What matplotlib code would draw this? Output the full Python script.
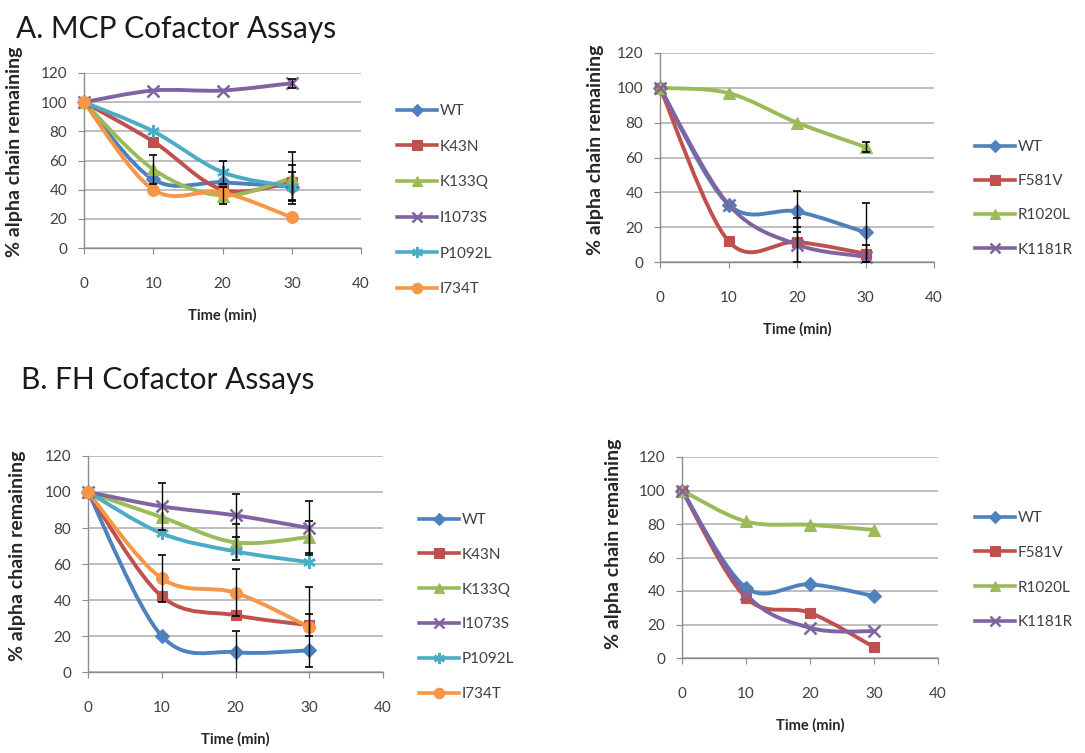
import matplotlib
matplotlib.use("Agg")
import matplotlib.pyplot as plt
import numpy as np
from matplotlib.path import Path
from matplotlib.patches import PathPatch
from matplotlib.lines import Line2D

plt.rcParams['font.family'] = ['Lato', 'DejaVu Sans']

# ---------------- data ----------------
time_min = [0, 10, 20, 30]
x_ticks = [0, 10, 20, 30, 40]
y_ticks = [0, 20, 40, 60, 80, 100, 120]

mcp_left_labels = ["WT", "K43N", "K133Q", "I1073S", "P1092L", "I734T"]
mcp_wt = [100, 47, 45, 42]
mcp_k43n = [100, 73, 40, 45]
mcp_k133q = [100, 54, 36, 48]
mcp_i1073s = [100, 108, 108, 113]
mcp_p1092l = [100, 80, 52, 42]
mcp_i734t = [100, 40, 38, 21]
mcp_wt_err = [0, 0, 0, 10]
mcp_k43n_err = [0, 0, 0, 12]
mcp_k133q_err = [0, 10, 6, 18]
mcp_i1073s_err = [0, 0, 0, 3]
mcp_p1092l_err = [0, 0, 8, 0]
mcp_i734t_err = [0, 0, 0, 0]

mcp_right_labels = ["WT", "F581V", "R1020L", "K1181R"]
mcp_r_wt = [100, 33, 29, 17]
mcp_r_f581v = [100, 12, 11.5, 4.8]
mcp_r_r1020l = [100, 97, 80, 66]
mcp_r_k1181r = [100, 33, 10, 3]
mcp_r_wt_err = [0, 0, 12, 17]
mcp_r_f581v_err = [0, 0, 14, 5]
mcp_r_r1020l_err = [0, 0, 0, 3]
mcp_r_k1181r_err = [0, 0, 10, 0]

fh_left_labels = ["WT", "K43N", "K133Q", "I1073S", "P1092L", "I734T"]
fh_wt = [100, 20, 11, 12]
fh_k43n = [100, 42, 31.5, 26]
fh_k133q = [100, 86, 72, 75]
fh_i1073s = [100, 92, 87, 80]
fh_p1092l = [100, 77, 67, 61]
fh_i734t = [100, 52, 44, 25]
fh_wt_err = [0, 0, 12, 0]
fh_k43n_err = [0, 0, 0, 6]
fh_k133q_err = [0, 0, 10, 9]
fh_i1073s_err = [0, 13, 12, 15]
fh_p1092l_err = [0, 0, 0, 0]
fh_i734t_err = [0, 13, 13, 22]

fh_right_labels = ["WT", "F581V", "R1020L", "K1181R"]
fh_r_wt = [100, 42, 44, 37]
fh_r_f581v = [100, 36, 27, 6.5]
fh_r_r1020l = [100, 81.5, 79.5, 76.5]
fh_r_k1181r = [100, 38, 18, 16]

Y_LABEL = "% alpha chain remaining"
X_LABEL = "Time (min)"

# ---------------- styles ----------------
C_BLUE = "#4F81BD"
C_RED = "#C0504D"
C_GREEN = "#9BBB59"
C_PURPLE = "#8064A2"
C_CYAN = "#4BACC6"
C_ORANGE = "#F79646"
STAR = (6, 2, 0)

left_styles = [(C_BLUE, "D", 7), (C_RED, "s", 7.5), (C_GREEN, "^", 8.5),
               (C_PURPLE, "x", 8), (C_CYAN, STAR, 9), (C_ORANGE, "o", 8.5)]
right_styles = [(C_BLUE, "D", 7), (C_RED, "s", 7.5), (C_GREEN, "^", 8.5),
                (C_PURPLE, "x", 8)]

W, H = 1085, 753
fig = plt.figure(figsize=(W / 100, H / 100), dpi=100)
fig.patch.set_facecolor("white")

TICK_COLOR = "#404040"
GRID_COLOR = "#BEBEBE"
AXIS_COLOR = "#8C8C8C"
LABEL_COLOR = "#262626"


def px_axes(x0, x1, ytop, ybot):
    return fig.add_axes([x0 / W, (H - ybot) / H, (x1 - x0) / W, (ybot - ytop) / H])


def smooth_path(xs, ys):
    pts = np.column_stack([xs, ys]).astype(float)
    n = len(pts)
    verts = [pts[0]]
    codes = [Path.MOVETO]
    for i in range(n - 1):
        p0 = pts[i - 1] if i > 0 else pts[i]
        p1 = pts[i]
        p2 = pts[i + 1]
        p3 = pts[i + 2] if i + 2 < n else pts[i + 1]
        c1 = p1 + (p2 - p0) / 6.0
        c2 = p2 - (p3 - p1) / 6.0
        verts += [c1, c2, p2]
        codes += [Path.CURVE4] * 3
    return Path(verts, codes)


def style_axes(ax):
    ax.set_xlim(0, 40)
    ax.set_ylim(0, 120)
    ax.set_xticks(x_ticks)
    ax.set_yticks(y_ticks)
    ax.grid(axis="y", color=GRID_COLOR, lw=1.4, zorder=0)
    ax.set_axisbelow(True)
    for s in ["top", "right"]:
        ax.spines[s].set_visible(False)
    for s in ["left", "bottom"]:
        ax.spines[s].set_color(AXIS_COLOR)
        ax.spines[s].set_linewidth(1.0)
    ax.tick_params(axis="both", direction="out", length=4, color=AXIS_COLOR,
                   labelsize=11, labelcolor=TICK_COLOR)
    ax.tick_params(axis="x", pad=17)
    ax.tick_params(axis="y", pad=8)
    ax.set_facecolor("none")
    ax.set_xlabel(X_LABEL, fontsize=10.5, fontweight="bold", color=LABEL_COLOR, labelpad=12)


def draw_series(ax, series, errs, styles, labels):
    handles = []
    for ys, err, (c, m, ms), lab in zip(series, errs, styles, labels):
        patch = PathPatch(smooth_path(time_min, ys), fill=False, edgecolor=c,
                          lw=2.8, capstyle="round", joinstyle="round", zorder=3)
        ax.add_patch(patch)
        mew = 1.8 if m in ("x", STAR) else 0.8
        ax.plot(time_min, ys, linestyle="none", marker=m, ms=ms, color=c,
                markeredgecolor=c, mew=mew, zorder=4, clip_on=False)
        if err is not None and any(e > 0 for e in err):
            xe = [t for t, e in zip(time_min, err) if e > 0]
            ye = [v for v, e in zip(ys, err) if e > 0]
            ee = [e for e in err if e > 0]
            ax.errorbar(xe, ye, yerr=ee, fmt="none", ecolor="black", elinewidth=1.0,
                        capsize=3, capthick=1.2, zorder=5)
        handles.append(Line2D([], [], color=c, lw=2.6, marker=m, ms=ms - 1,
                              markeredgecolor=c, mew=mew))
    return handles


def add_legend(handles, labels, x, y, spacing):
    fig.legend(handles, labels, loc="upper left", bbox_to_anchor=(x / W, 1 - y / H),
               frameon=False, fontsize=11, handlelength=2.6, handletextpad=0.2,
               labelspacing=spacing, borderpad=0, borderaxespad=0, labelcolor=TICK_COLOR)


def add_ylabel(xc, yc):
    fig.text(xc / W, 1 - yc / H, Y_LABEL, rotation=90, ha="center", va="center",
             fontsize=14, fontweight="bold", color=LABEL_COLOR)


# ---------------- titles ----------------
fig.text(16 / W, 1 - 38 / H, "A. MCP Cofactor Assays", fontsize=21.5, color="#1a1a1a",
         ha="left", va="baseline")
fig.text(21 / W, 1 - 389 / H, "B. FH Cofactor Assays", fontsize=21.5, color="#1a1a1a",
         ha="left", va="baseline")

# ---------------- top-left ----------------
ax1 = px_axes(84, 361, 73, 248)
style_axes(ax1)
h = draw_series(ax1, [mcp_wt, mcp_k43n, mcp_k133q, mcp_i1073s, mcp_p1092l, mcp_i734t],
                [mcp_wt_err, mcp_k43n_err, mcp_k133q_err, mcp_i1073s_err, mcp_p1092l_err,
                 mcp_i734t_err], left_styles, mcp_left_labels)
add_legend(h, mcp_left_labels, 397, 104, 1.42)
add_ylabel(15, 152)

# ---------------- top-right ----------------
ax2 = px_axes(660, 934, 53, 262)
style_axes(ax2)
h = draw_series(ax2, [mcp_r_wt, mcp_r_f581v, mcp_r_r1020l, mcp_r_k1181r],
                [mcp_r_wt_err, mcp_r_f581v_err, mcp_r_r1020l_err, mcp_r_k1181r_err],
                right_styles, mcp_right_labels)
add_legend(h, mcp_right_labels, 975, 140, 1.32)
add_ylabel(595, 150)

# ---------------- bottom-left ----------------
ax3 = px_axes(88, 383, 456, 672)
style_axes(ax3)
h = draw_series(ax3, [fh_wt, fh_k43n, fh_k133q, fh_i1073s, fh_p1092l, fh_i734t],
                [fh_wt_err, fh_k43n_err, fh_k133q_err, fh_i1073s_err, fh_p1092l_err,
                 fh_i734t_err], left_styles, fh_left_labels)
add_legend(h, fh_left_labels, 419, 513, 1.36)
add_ylabel(18, 556)

# ---------------- bottom-right ----------------
ax4 = px_axes(682, 938, 457, 658)
style_axes(ax4)
h = draw_series(ax4, [fh_r_wt, fh_r_f581v, fh_r_r1020l, fh_r_k1181r],
                [None, None, None, None], right_styles, fh_right_labels)
add_legend(h, fh_right_labels, 975, 511, 1.36)
add_ylabel(613, 544)

fig.savefig("out.png", dpi=100, facecolor="white")
